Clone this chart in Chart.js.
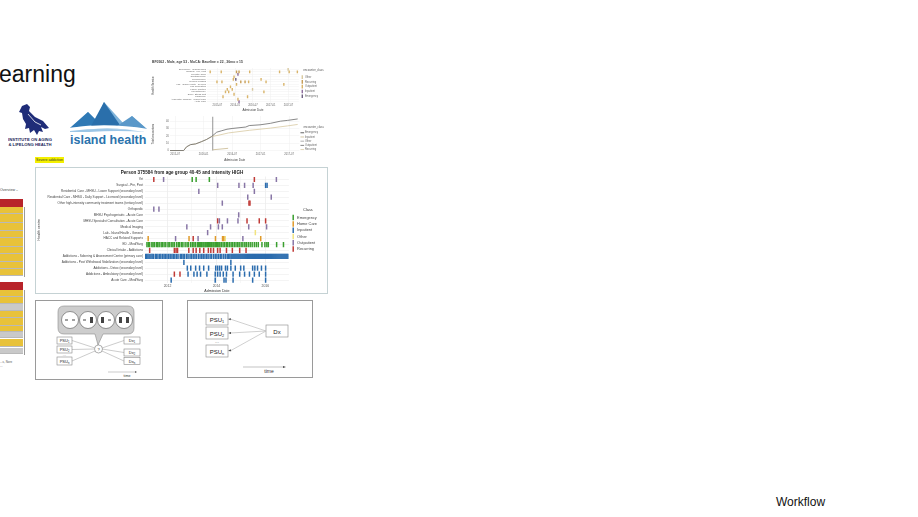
<!DOCTYPE html>
<html><head><meta charset="utf-8">
<script src="https://cdn.jsdelivr.net/npm/chart.js@4.4.1/dist/chart.umd.min.js"></script>
<style>
html,body{margin:0;padding:0;background:#fff;width:918px;height:517px;overflow:hidden;font-family:"Liberation Sans",Arial,sans-serif;}
.abs{position:absolute;}
.cell{position:absolute;left:0;width:23px;border-bottom:1px solid #b9b9b9;box-sizing:border-box;}
canvas{display:block;}
</style></head><body>

<!-- slide title fragment -->
<div class="abs" style="left:-1px;top:61px;font-size:23px;line-height:26px;color:#111;">earning</div>

<!-- Institute on Aging logo -->
<svg class="abs" style="left:8px;top:100px" width="50" height="50" viewBox="0 0 50 50">
  <path d="M14 6 L19 4 L22 7 L21 11 L27 17 L35 21 L41 28 L37 29 L33 27 L35 32 L31 31 L29 35 L26 30 L22 33 L21 28 L17 29 L18 24 L15 19 L14 13 L11 12 Z" fill="#1f2c78"/>
  <path d="M20 14 L27 22 L33 25" stroke="#ffffff" stroke-width="0.8" fill="none"/>
  <text x="22" y="41" font-size="4.2" font-weight="bold" text-anchor="middle" fill="#1b2459">INSTITUTE ON AGING</text>
  <text x="22" y="45.5" font-size="4.2" font-weight="bold" text-anchor="middle" fill="#1b2459">&amp; LIFELONG HEALTH</text>
</svg>

<!-- island health logo -->
<svg class="abs" style="left:66px;top:98px" width="86" height="34" viewBox="0 0 86 34">
  <polygon points="4,30 22,14 30,22 38,4 58,26 66,18 82,32" fill="#7eb3da"/>
  <polygon points="4,30 22,14 34,26" fill="#2f79b5"/>
  <polygon points="24,30 38,4 56,30" fill="#2a6fab"/>
  <polygon points="48,30 66,18 82,32" fill="#5a98c9"/>
  <path d="M2 30 Q40 24 82 31 L82 34 Q40 27 2 34 Z" fill="#ffffff"/>
  <path d="M4 33 Q42 28 80 34 Q42 31 4 36 Z" fill="#9cc6e6"/>
</svg>
<div class="abs" style="left:70px;top:133px;font-size:12.5px;line-height:15px;font-weight:bold;color:#2b73ad;white-space:nowrap;">island health</div>

<div class="abs" style="left:35px;top:157px;width:29px;height:6px;background:#f4f000;font-size:3.6px;line-height:6px;color:#333;text-align:center;white-space:nowrap;overflow:hidden;">Severe addiction</div>

<!-- left table fragment -->
<div class="abs" style="left:0;top:188px;font-size:3.6px;color:#444;white-space:nowrap;">Overview –</div>
<div class="abs" style="left:0;top:199px;width:25px;height:160px;">
  <div class="cell" style="top:0;height:8px;background:#b8242a;border-bottom:0"></div>
  <div class="cell" style="top:8px;height:7px;background:#e8c23a"></div>
  <div class="cell" style="top:15px;height:9px;background:#e8c23a"></div>
  <div class="cell" style="top:24px;height:8px;background:#e8c23a"></div>
  <div class="cell" style="top:32px;height:7px;background:#e8c23a"></div>
  <div class="cell" style="top:39px;height:9px;background:#e8c23a"></div>
  <div class="cell" style="top:48px;height:7px;background:#e8c23a"></div>
  <div class="cell" style="top:55px;height:8px;background:#e8c23a"></div>
  <div class="cell" style="top:63px;height:7px;background:#e8c23a"></div>
  <div class="cell" style="top:70px;height:7px;background:#e8c23a"></div>
  <div class="cell" style="top:83px;height:8px;background:#b8242a;border-bottom:0"></div>
  <div class="cell" style="top:91px;height:7px;background:#e8c23a"></div>
  <div class="cell" style="top:98px;height:7px;background:#e8c23a"></div>
  <div class="cell" style="top:105px;height:7px;background:#c9c9c9"></div>
  <div class="cell" style="top:112px;height:7px;background:#e8c23a"></div>
  <div class="cell" style="top:119px;height:8px;background:#e8c23a"></div>
  <div class="cell" style="top:127px;height:6px;background:#e8c23a"></div>
  <div class="cell" style="top:133px;height:6px;background:#c9c9c9"></div>
  <div class="cell" style="top:140px;height:8px;background:#e8c23a"></div>
  <div class="cell" style="top:149px;height:6px;background:#c9c9c9"></div>
  <div class="abs" style="left:24px;top:8px;width:1px;height:70px;background:#9a9a9a"></div>
  <div class="abs" style="left:24px;top:91px;width:1px;height:65px;background:#9a9a9a"></div>
</div>
<div class="abs" style="left:0;top:360px;font-size:3px;color:#555;line-height:4px;white-space:nowrap;">...s, Nore<br>...</div>

<!-- top chart panel -->
<div class="abs" style="left:150px;top:57px;width:180px;height:55px;"><canvas id="topStrip" width="180" height="55"></canvas></div>
<div class="abs" style="left:150px;top:112px;width:180px;height:50px;"><canvas id="topLines" width="180" height="50"></canvas></div>

<!-- main chart panel -->
<div class="abs" style="left:35px;top:167px;width:291px;height:125px;border:1px solid #c5d2d4;">
  <canvas id="mainChart" width="291" height="125"></canvas>
</div>

<!-- bottom-left diagram -->
<svg class="abs" style="left:35px;top:300px" width="129" height="81" viewBox="0 0 129 81" font-family="Liberation Sans, Arial, sans-serif">
  <rect x="0.5" y="0.5" width="127" height="79" fill="#fff" stroke="#9a9a9a"/>
  <path d="M29 6 H93 Q99 6 99 12 V28 Q99 34 93 34 H68 L63 45 L60 34 H29 Q23 34 23 28 V12 Q23 6 29 6 Z" fill="#cdcdcd" stroke="#8a8a8a" stroke-width="0.6"/>
  <g stroke="#555" stroke-width="0.6" fill="#fff">
    <circle cx="35" cy="20" r="8.5"/><circle cx="53" cy="20" r="8.5"/><circle cx="71" cy="20" r="8.5"/><circle cx="89" cy="20" r="8.5"/>
  </g>
  <g fill="#444">
    <rect x="30" y="19.5" width="3" height="1"/><rect x="37" y="19.5" width="3" height="1"/>
    <rect x="48" y="19.5" width="3" height="1"/><rect x="55" y="17" width="3" height="6"/>
    <rect x="66" y="17" width="3" height="6"/><rect x="73" y="19.5" width="3" height="1"/>
    <rect x="84" y="17" width="3" height="6"/><rect x="91" y="17" width="3" height="6"/>
  </g>
  <g stroke="#aaa" stroke-width="0.6">
    <line x1="37" y1="40.5" x2="60" y2="48"/><line x1="37" y1="49.5" x2="59" y2="49"/><line x1="37" y1="61" x2="60" y2="51"/>
    <line x1="67" y1="48" x2="89" y2="40.5"/><line x1="67" y1="49" x2="89" y2="52.5"/><line x1="67" y1="51" x2="89" y2="61"/>
  </g>
  <circle cx="63.5" cy="49" r="4" fill="#fff" stroke="#777" stroke-width="0.6"/>
  <text x="63.5" y="50.6" font-size="4" text-anchor="middle" fill="#333">?</text>
  <g fill="#fff" stroke="#888" stroke-width="0.6">
    <rect x="22" y="37" width="15" height="7"/><rect x="22" y="46" width="15" height="7"/><rect x="22" y="57" width="15" height="8"/>
    <rect x="89" y="37" width="16" height="7"/><rect x="89" y="49" width="16" height="7"/><rect x="89" y="57.5" width="16" height="7"/>
  </g>
  <g font-size="4" fill="#222" text-anchor="middle">
    <text x="29.5" y="42.2">PSU<tspan font-size="2.6" dy="1">1</tspan></text>
    <text x="29.5" y="51.2">PSU<tspan font-size="2.6" dy="1">2</tspan></text>
    <text x="29.5" y="55.5" fill="#888">...</text>
    <text x="29.5" y="62.6">PSU<tspan font-size="2.6" dy="1">n</tspan></text>
    <text x="97" y="42.2">Dx<tspan font-size="2.6" dy="1">1</tspan></text>
    <text x="97" y="54.2">Dx<tspan font-size="2.6" dy="1">2</tspan></text>
    <text x="97" y="62.6">Dx<tspan font-size="2.6" dy="1">n</tspan></text>
  </g>
  <line x1="73" y1="72" x2="100" y2="72" stroke="#aaa" stroke-width="0.6"/>
  <polygon points="100,71 102,72 100,73" fill="#555"/>
  <text x="92" y="77" font-size="3.6" text-anchor="middle" fill="#333">time</text>
</svg>

<!-- bottom-right diagram -->
<svg class="abs" style="left:187px;top:300px" width="127" height="79" viewBox="0 0 127 79" font-family="Liberation Sans, Arial, sans-serif">
  <rect x="0.5" y="0.5" width="125" height="77" fill="#fff" stroke="#9a9a9a"/>
  <g fill="#fff" stroke="#888" stroke-width="0.6">
    <rect x="19" y="13" width="22" height="12"/><rect x="19" y="27" width="22" height="12"/><rect x="19" y="45" width="22" height="12"/>
    <rect x="79" y="25" width="22" height="12"/>
  </g>
  <g stroke="#bbb" stroke-width="0.7">
    <line x1="79" y1="31" x2="43" y2="19"/><line x1="79" y1="31" x2="43" y2="33"/><line x1="79" y1="31" x2="43" y2="51"/>
  </g>
  <g fill="#444">
    <polygon points="41,19 44,18.2 43.6,20.2"/><polygon points="41,33 44,32 44,34"/><polygon points="41,51 43.6,49.2 44.2,51.2"/>
  </g>
  <g font-size="6" fill="#222" text-anchor="middle">
    <text x="30" y="21.5">PSU<tspan font-size="3.8" dy="1.4">1</tspan></text>
    <text x="30" y="35.5">PSU<tspan font-size="3.8" dy="1.4">2</tspan></text>
    <text x="30" y="43" font-size="5" fill="#777">...</text>
    <text x="30" y="53.5">PSU<tspan font-size="3.8" dy="1.4">n</tspan></text>
    <text x="90" y="33.5">Dx</text>
  </g>
  <line x1="56" y1="67" x2="96" y2="67" stroke="#aaa" stroke-width="0.7"/>
  <polygon points="96,66 99,67 96,68" fill="#444"/>
  <text x="82" y="73" font-size="5" text-anchor="middle" fill="#333">time</text>
</svg>

<div class="abs" style="left:776px;top:495px;font-size:12px;line-height:14px;color:#111;">Workflow</div>

<script>
// ---------- main chart data ----------
const healthCentres = [
  'Yet',
  'Surgical - Pre, Post',
  'Residential Care - MHSU - Lower Support (secondary level)',
  'Residential Care - MHSU - Daily Support - Licensed (secondary level)',
  'Other high-intensity community treatment teams (tertiary level)',
  'Orthopedic',
  'MHSU Psychogeriatric - Acute Care',
  'MHSU Specialist Consultation - Acute Care',
  'Medical Imaging',
  'Lab - Island Health - General',
  'HACC and Related Supports',
  'ED - Med/Surg',
  'Clinical Intake - Addictions',
  'Addictions - Sobering & Assessment Centre (primary care)',
  'Addictions - Post Withdrawal Stabilization (secondary level)',
  'Addictions - Detox (secondary level)',
  'Addictions - Ambulatory (secondary level)',
  'Acute Care - Med/Surg'
];
const classNames = ['Emergency', 'Home Care', 'Inpatient', 'Other', 'Outpatient', 'Recurring'];
const classColours = ['#3a9f2f', '#e09a2a', '#2b6cae', '#f1e37e', '#8876a6', '#c03a36'];
const xTickYears = [2012, 2013, 2014, 2015, 2016];

const edMedSurgVisits = [2011.16, 2011.22, 2011.27, 2011.36, 2011.41, 2011.47, 2011.55, 2011.60, 2011.66, 2011.74, 2011.79, 2011.86, 2011.93, 2012.02, 2012.07, 2012.15, 2012.22, 2012.28, 2012.37, 2012.44, 2012.50, 2012.58, 2012.63, 2012.72, 2012.80, 2012.86, 2012.95, 2013.02, 2013.08, 2013.14, 2013.22, 2013.26, 2013.31, 2013.36, 2013.40, 2013.45, 2013.49, 2013.54, 2013.58, 2013.63, 2013.67, 2013.72, 2013.77, 2013.81, 2013.86, 2013.90, 2013.95, 2014.00, 2014.05, 2014.10, 2014.14, 2014.20, 2014.27, 2014.33, 2014.40, 2014.46, 2014.53, 2014.60, 2014.66, 2014.73, 2014.80, 2014.87, 2014.93, 2015.01, 2015.08, 2015.16, 2015.22, 2015.30, 2015.38, 2015.46, 2015.55, 2015.63, 2015.71, 2015.86, 2015.98, 2016.06, 2016.12, 2016.46, 2016.74];
const soberingVisits = [2011.10, 2011.15, 2011.20, 2011.25, 2011.32, 2011.37, 2011.42, 2011.50, 2011.55, 2011.61, 2011.68, 2011.73, 2011.80, 2011.86, 2011.92, 2011.98, 2012.05, 2012.11, 2012.18, 2012.24, 2012.30, 2012.37, 2012.43, 2012.52, 2012.58, 2012.64, 2012.70, 2012.78, 2012.84, 2012.92, 2012.98, 2013.05, 2013.12, 2013.18, 2013.26, 2013.33, 2013.40, 2013.46, 2013.53, 2013.60, 2013.66, 2013.74, 2013.80, 2013.88, 2013.95, 2014.02, 2014.09, 2014.16, 2014.22, 2014.30, 2014.37, 2014.44, 2014.50, 2014.55, 2014.60, 2014.64, 2014.68, 2014.72, 2014.76, 2014.80, 2014.84, 2014.88, 2014.92, 2014.96, 2015.00, 2015.04, 2015.08, 2015.12, 2015.16, 2015.20, 2015.24, 2015.28, 2015.32, 2015.36, 2015.40, 2015.44, 2015.48, 2015.52, 2015.56, 2015.60, 2015.64, 2015.68, 2015.72, 2015.76, 2015.80, 2015.84, 2015.88, 2015.92, 2015.96, 2016.00, 2016.04, 2016.08, 2016.12, 2016.16, 2016.20, 2016.24, 2016.28, 2016.32, 2016.36, 2016.40, 2016.44, 2016.48, 2016.52, 2016.56, 2016.60, 2016.64, 2016.68, 2016.72, 2016.76, 2016.80, 2016.84, 2016.88, 2016.92];
const clinicalIntakeVisits = [2011.27, 2012.28, 2012.35, 2012.41, 2012.87, 2013.05, 2013.17, 2013.32, 2013.48, 2013.67, 2013.77, 2013.88, 2014.05, 2014.15, 2014.41, 2014.65, 2014.95, 2015.21];
const detoxVisits = [2012.81, 2012.95, 2013.15, 2013.31, 2013.48, 2013.68, 2013.97, 2014.05, 2014.13, 2014.21, 2014.37, 2014.45, 2014.59, 2014.77, 2014.99, 2015.12, 2015.48, 2015.57, 2015.68, 2015.84, 2016.01];
const ambulatoryVisits = [2012.84, 2013.08, 2013.21, 2013.35, 2013.61, 2013.95, 2014.05, 2014.15, 2014.28, 2014.41, 2014.68, 2014.95, 2015.15, 2015.35, 2015.55, 2015.75, 2016.01];
const acuteCareVisits = [2012.15, 2013.95, 2014.31, 2014.39, 2014.68, 2015.48, 2016.01];

// [row index, dates]
const emergencyEvents = [[0, [2013.01, 2013.17, 2013.71]], [11, edMedSurgVisits]];
const homeCareEvents = [[10, [2011.21, 2012.88, 2013.96, 2014.25, 2014.30, 2015.81]]];
const inpatientEvents = [[1, [2016.01, 2016.07]], [13, soberingVisits], [14, [2012.67, 2014.59]], [15, detoxVisits], [16, ambulatoryVisits], [17, acuteCareVisits]];
const otherEvents = [[9, [2015.59]], [10, [2014.36]]];
const outpatientEvents = [[0, [2011.84, 2016.45]], [1, [2014.05, 2014.92, 2015.15, 2015.50]], [2, [2013.28, 2015.55]], [3, [2015.28, 2016.24]], [4, [2014.24]], [5, [2011.44, 2011.65]], [6, [2014.91]], [7, [2014.12, 2014.45, 2014.88]], [8, [2012.79, 2013.76, 2014.08, 2014.24, 2015.32, 2016.05]], [9, [2013.64]], [10, [2012.33, 2013.25, 2015.08]]];
const recurringEvents = [[0, [2011.44, 2015.55]], [4, [2015.33, 2015.37]], [7, [2014.05, 2015.25, 2015.75, 2016.01]], [10, [2013.05]], [12, clinicalIntakeVisits], [16, [2012.28, 2012.51]]];
const eventsByClass = [emergencyEvents, homeCareEvents, inpatientEvents, otherEvents, outpatientEvents, recurringEvents];

// ---------- top strip chart data ----------
const serviceLabels = ['Emergency - Emergencies', 'Surgical - Pre, Post', 'Geriatric Clinic', 'Ophthalmology', 'Neurosurgery', 'Medical Imaging', 'Lab - Island Health - General', 'Lab Requisition', 'Family Practice', 'Physiotherapy', 'ECG / Stress Test', 'Cardiology', 'Ambulatory Episode - Urgent Care', 'Acute Care'];
const topClassNames = ['Other', 'Recurring', 'Outpatient', 'Inpatient', 'Emergency'];
const topClassColours = ['#d9c9a0', '#c79d55', '#d9b46a', '#8c6b9c', '#6d5f80'];
const topOtherEvents = [[0, [2017.49]], [8, [2016.49]]];
const topRecurringEvents = [[1, [2016.04, 2016.11]], [5, [2016.16, 2016.28]]];
const topOutpatientEvents = [[1, [2015.30, 2015.61, 2016.41, 2017.25, 2017.52, 2017.75]], [3, [2015.97]], [4, [2015.95, 2016.73]], [5, [2015.49, 2015.63, 2016.38, 2016.87]], [6, [2016.04, 2017.37]], [7, [2015.87]], [8, [2015.78, 2015.92]], [9, [2015.73, 2015.82, 2016.81]], [10, [2015.97]], [11, [2015.66, 2016.35]], [12, [2016.08]]];
const topInpatientEvents = [[2, [2016.08]], [13, [2016.11]]];
const topEmergencyEvents = [[4, [2016.02]]];
const topEventsByClass = [topOtherEvents, topRecurringEvents, topOutpatientEvents, topInpatientEvents, topEmergencyEvents];
const topTickValues = [2015.5, 2016.0, 2016.5, 2017.0, 2017.5];
const topTickLabels = ['2015-07', '2016-01', '2016-07', '2017-01', '2017-07'];

// ---------- cumulative encounters data ----------
const lineClassNames = ['Emergency', 'Inpatient', 'Other', 'Outpatient', 'Recurring'];
const lineClassColours = ['#3b3b3b', '#c8b88e', '#9a9a9a', '#6a6a6a', '#d8c9a2'];
const outpatientDates = [2015.41, 2015.65, 2015.70, 2015.77, 2015.86, 2015.96, 2016.05, 2016.14, 2016.23, 2016.32, 2016.41, 2016.50, 2016.62, 2016.74, 2016.80, 2016.99, 2017.17, 2017.35, 2017.47, 2017.65];
const outpatientTotals = [0, 0, 5, 8, 9, 12, 15, 19, 25, 27, 29, 30, 31, 32, 34, 35, 37, 40, 41, 43];
const recurringDates = [2015.41, 2015.65, 2015.70, 2015.77, 2015.86, 2015.96, 2016.05, 2016.14, 2016.27, 2016.44, 2016.80, 2017.17, 2017.47, 2017.65];
const recurringTotals = [0, 0, 5, 8, 9, 12, 15, 19, 21, 24, 27.5, 30.5, 33.5, 35.5];
const inpatientDates = [2016.16, 2016.43];
const inpatientTotals = [1, 3];
const baselineDate = 2016.16;
const baselineSpan = [0, 46];
const lineYTicks = [0, 10, 20, 30, 40];

const FONT = 'Liberation Sans, Arial, sans-serif';

function toPoints(events, labels) {
  const pts = [];
  events.forEach(([r, ds]) => ds.forEach(d => pts.push({ x: d, y: labels[r] })));
  return pts;
}

// ---------- main chart ----------
new Chart(document.getElementById('mainChart'), {
  type: 'scatter',
  data: {
    datasets: classNames.map((name, i) => ({
      label: name,
      data: toPoints(eventsByClass[i], healthCentres),
      pointStyle: 'line', rotation: 90, radius: 2.6, hoverRadius: 2.6,
      borderWidth: 1.5, borderColor: classColours[i], backgroundColor: classColours[i]
    }))
  },
  options: {
    responsive: false, animation: false, devicePixelRatio: 1,
    layout: { padding: { left: 1, right: 0, top: 0, bottom: 0 } },
    plugins: {
      tooltip: { enabled: false },
      title: { display: true, text: 'Person 375584 from age group 40-45 and intensity HIGH', color: '#222', font: { family: FONT, size: 4.6 }, padding: { top: 2, bottom: 1 } },
      legend: {
        position: 'right',
        title: { display: true, text: 'Class', color: '#333', font: { family: FONT, size: 3.9 }, padding: { top: 0, bottom: 1 } },
        labels: { usePointStyle: true, color: '#444', font: { family: FONT, size: 3.9 }, padding: 2.4, boxWidth: 4 }
      }
    },
    scales: {
      x: {
        type: 'linear', min: 2011.08, max: 2016.96,
        afterBuildTicks: s => { s.ticks = xTickYears.map(v => ({ value: v })); },
        afterFit: s => { s.height = 10; },
        ticks: { color: '#555', font: { family: FONT, size: 3.4 }, padding: 1, maxRotation: 0, autoSkip: false, callback: v => (v % 2 === 0 ? String(v) : '') },
        grid: { color: c => (c.tick && c.tick.value % 2 === 0 ? '#e6e6e6' : '#f2f2f2'), lineWidth: 0.6, drawTicks: false },
        border: { display: false },
        title: { display: true, text: 'Admission Date', color: '#333', font: { family: FONT, size: 3.6 }, padding: 0 }
      },
      y: {
        type: 'category', labels: healthCentres, offset: true, reverse: false,
        afterFit: s => { s.width = 108; },
        ticks: { color: '#444', font: { family: FONT, size: 3.1 }, padding: 2, autoSkip: false },
        grid: { color: '#ececec', lineWidth: 0.6, drawTicks: false },
        border: { display: false },
        title: { display: true, text: 'Health centre', color: '#333', font: { family: FONT, size: 3.6 }, padding: 0 }
      }
    }
  }
});

// ---------- top strip chart ----------
new Chart(document.getElementById('topStrip'), {
  type: 'scatter',
  data: {
    datasets: topClassNames.map((name, i) => ({
      label: name,
      data: toPoints(topEventsByClass[i], serviceLabels),
      pointStyle: 'line', rotation: 90, radius: 1.4, hoverRadius: 1.4,
      borderWidth: 1.4, borderColor: topClassColours[i], backgroundColor: topClassColours[i]
    }))
  },
  options: {
    responsive: false, animation: false, devicePixelRatio: 1,
    layout: { padding: { left: 2, right: 2, top: 0, bottom: 0 } },
    plugins: {
      tooltip: { enabled: false },
      title: { display: true, align: 'start', text: 'BF0562 - Male, age 53 - MoCA: Baseline = 22 , 36mo = 15', color: '#444', font: { family: FONT, size: 3.4 }, padding: { top: 3, bottom: 4 } },
      legend: {
        position: 'right',
        title: { display: true, text: 'encounter_class', color: '#555', font: { family: FONT, size: 2.8 }, padding: { top: 0, bottom: 1 } },
        labels: { usePointStyle: true, color: '#666', font: { family: FONT, size: 2.6 }, padding: 2.2, boxWidth: 3 }
      }
    },
    scales: {
      x: {
        type: 'linear', min: 2015.21, max: 2017.79,
        afterBuildTicks: s => { s.ticks = topTickValues.map(v => ({ value: v })); },
        afterFit: s => { s.height = 9; },
        ticks: { color: '#666', font: { family: FONT, size: 2.6 }, padding: 1, maxRotation: 0, autoSkip: false, callback: (v, i) => topTickLabels[i] },
        grid: { color: '#eeeeee', lineWidth: 0.5, drawTicks: false },
        border: { display: false },
        title: { display: true, text: 'Admission Date', color: '#444', font: { family: FONT, size: 3 }, padding: 0 }
      },
      y: {
        type: 'category', labels: serviceLabels, offset: true,
        afterFit: s => { s.width = 55; },
        ticks: { color: '#666', font: { family: FONT, size: 2.3 }, padding: 1, autoSkip: false },
        grid: { color: '#f0f0f0', lineWidth: 0.5, drawTicks: false },
        border: { display: false },
        title: { display: true, text: 'Health Service', color: '#444', font: { family: FONT, size: 2.8 }, padding: 0 }
      }
    }
  }
});

// ---------- cumulative encounters chart ----------
const zip = (xs, ys) => xs.map((x, i) => ({ x, y: ys[i] }));
new Chart(document.getElementById('topLines'), {
  type: 'scatter',
  data: {
    datasets: [
      { label: 'Emergency', data: [], borderColor: lineClassColours[0], backgroundColor: lineClassColours[0] },
      { label: 'Inpatient', data: zip(inpatientDates, inpatientTotals), borderColor: lineClassColours[1], backgroundColor: lineClassColours[1] },
      { label: 'Other', data: [], borderColor: lineClassColours[2], backgroundColor: lineClassColours[2] },
      { label: 'Outpatient', data: zip(outpatientDates, outpatientTotals), borderColor: lineClassColours[3], backgroundColor: lineClassColours[3] },
      { label: 'Recurring', data: zip(recurringDates, recurringTotals), borderColor: lineClassColours[4], backgroundColor: lineClassColours[4] },
      { label: 'baseline', data: baselineSpan.map(v => ({ x: baselineDate, y: v })), borderColor: '#8a8a8a', backgroundColor: '#8a8a8a', borderWidth: 0.9 }
    ].map(d => Object.assign({ showLine: true, pointRadius: 0, borderWidth: 0.8, pointStyle: 'line' }, d))
  },
  options: {
    responsive: false, animation: false, devicePixelRatio: 1,
    layout: { padding: { left: 2, right: 2, top: 4, bottom: 0 } },
    plugins: {
      tooltip: { enabled: false },
      legend: {
        position: 'right',
        title: { display: true, text: 'encounter_class', color: '#555', font: { family: FONT, size: 2.8 }, padding: { top: 0, bottom: 1 } },
        labels: { usePointStyle: true, color: '#666', font: { family: FONT, size: 2.6 }, padding: 1.6, boxWidth: 3, filter: it => it.text !== 'baseline' }
      }
    },
    scales: {
      x: {
        type: 'linear', min: 2015.41, max: 2017.68,
        afterBuildTicks: s => { s.ticks = topTickValues.map(v => ({ value: v })); },
        afterFit: s => { s.height = 10; },
        ticks: { color: '#666', font: { family: FONT, size: 2.6 }, padding: 1, maxRotation: 0, autoSkip: false, callback: (v, i) => topTickLabels[i] },
        grid: { color: '#eeeeee', lineWidth: 0.5, drawTicks: false },
        border: { display: false },
        title: { display: true, text: 'Admission Date', color: '#444', font: { family: FONT, size: 3 }, padding: 0 }
      },
      y: {
        type: 'linear', min: -2, max: 47,
        afterBuildTicks: s => { s.ticks = lineYTicks.map(v => ({ value: v })); },
        afterFit: s => { s.width = 18; },
        ticks: { color: '#666', font: { family: FONT, size: 2.6 }, padding: 1 },
        grid: { color: '#eeeeee', lineWidth: 0.5, drawTicks: false },
        border: { display: false },
        title: { display: true, text: 'Total encounters', color: '#444', font: { family: FONT, size: 2.8 }, padding: 0 }
      }
    }
  }
});
</script>
</body></html>
